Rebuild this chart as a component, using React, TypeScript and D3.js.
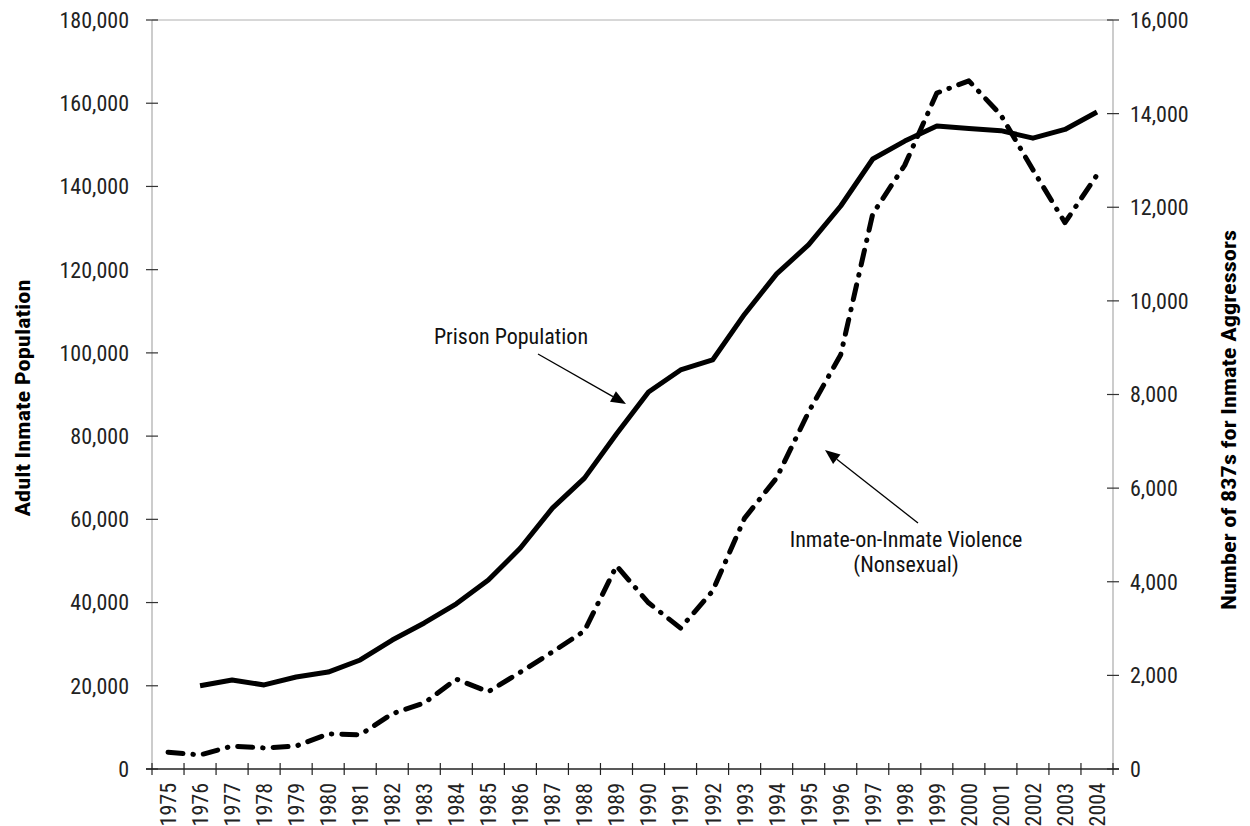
import React from "react";
import * as d3 from "d3";

const years = ["1975","1976","1977","1978","1979","1980","1981","1982","1983","1984","1985","1986","1987","1988","1989","1990","1991","1992","1993","1994","1995","1996","1997","1998","1999","2000","2001","2002","2003","2004"];
const prisonPopulation: (number | null)[] = [null,20000,21400,20200,22100,23300,26200,31000,35100,39700,45400,53100,62700,69900,80500,90600,95900,98300,109300,119000,126000,135300,146600,150900,154500,153900,153400,151600,153700,157900];
const violence: number[] = [360,300,490,450,490,750,730,1180,1410,1920,1650,2070,2500,2950,4340,3550,3010,3800,5360,6220,7630,8850,11860,12900,14440,14700,13970,12800,11670,12690];
const leftTicks = [0,20000,40000,60000,80000,100000,120000,140000,160000,180000];
const rightTicks = [0,2000,4000,6000,8000,10000,12000,14000,16000];

const W = 1250, H = 826;
const M = { left: 152, right: 1113, top: 20, bottom: 769 };
const FONT = "'Roboto Condensed', 'Liberation Sans Narrow', 'Arial Narrow', Roboto, sans-serif";

export default function App() {
  const x = d3.scaleBand<string>().domain(years).range([M.left, M.right]);
  const yL = d3.scaleLinear().domain([0, 180000]).range([M.bottom, M.top]);
  const yR = d3.scaleLinear().domain([0, 16000]).range([M.bottom, M.top]);
  const cx = (d: string) => (x(d) as number) + x.bandwidth() / 2;
  const fmt = d3.format(",");

  const popLine = d3.line<number | null>()
    .defined((d) => d !== null)
    .x((_, i) => cx(years[i]))
    .y((d) => yL(d as number));
  const vioLine = d3.line<number>()
    .x((_, i) => cx(years[i]))
    .y((d) => yR(d));

  const arrow = (x1: number, y1: number, x2: number, y2: number) => {
    const ang = Math.atan2(y2 - y1, x2 - x1);
    const L = 15, Wd = 6;
    const bx = x2 - L * Math.cos(ang), by = y2 - L * Math.sin(ang);
    const px = -Math.sin(ang) * Wd, py = Math.cos(ang) * Wd;
    return (
      <g>
        <line x1={x1} y1={y1} x2={bx} y2={by} stroke="#000" strokeWidth={1.3} />
        <polygon points={`${x2},${y2} ${bx + px},${by + py} ${bx - px},${by - py}`} fill="#000" />
      </g>
    );
  };

  return (
    <svg width={W} height={H} style={{ position: "absolute", left: 0, top: 0, background: "#fff" }} fontFamily={FONT}>
      <rect width={W} height={H} fill="#fff" />
      {/* top border */}
      <line x1={M.left} x2={M.right} y1={M.top} y2={M.top} stroke="#b0b0b0" strokeWidth={1} />
      {/* vertical axes */}
      <line x1={M.left} x2={M.left} y1={M.top} y2={M.bottom} stroke="#aaa" strokeWidth={1.2} />
      <line x1={M.right} x2={M.right} y1={M.top} y2={M.bottom} stroke="#aaa" strokeWidth={1.2} />
      {leftTicks.map((t) => (
        <g key={"l" + t}>
          <line x1={M.left - 6} x2={M.left + 6} y1={yL(t)} y2={yL(t)} stroke="#333" strokeWidth={1.2} />
          <text x={129} y={yL(t)} dy="0.36em" textAnchor="end" fontSize={22} fill="#222">{fmt(t)}</text>
        </g>
      ))}
      {rightTicks.map((t) => (
        <g key={"r" + t}>
          <line x1={M.right - 6} x2={M.right + 6} y1={yR(t)} y2={yR(t)} stroke="#333" strokeWidth={1.2} />
          <text x={1130} y={yR(t)} dy="0.36em" textAnchor="start" fontSize={22} fill="#222">{fmt(t)}</text>
        </g>
      ))}
      {/* x axis */}
      <line x1={M.left - 6} x2={M.right + 6} y1={M.bottom} y2={M.bottom} stroke="#222" strokeWidth={1.3} />
      {d3.range(years.length + 1).map((i) => {
        const xx = M.left + i * x.step();
        return <line key={"xt" + i} x1={xx} x2={xx} y1={M.bottom - 6} y2={M.bottom + 6} stroke="#222" strokeWidth={1.2} />;
      })}
      {years.map((yr) => (
        <text key={yr} transform={`translate(${cx(yr)},${783}) rotate(-90)`} dy="0.36em" textAnchor="end" fontSize={22} fill="#222">{yr}</text>
      ))}
      {/* axis titles */}
      <text transform={`translate(23,398) rotate(-90)`} textAnchor="middle" dy="0.36em" fontSize={20} fontWeight="bold" fill="#000" textLength={237} lengthAdjust="spacingAndGlyphs">Adult Inmate Population</text>
      <text transform={`translate(1229,420) rotate(-90)`} textAnchor="middle" dy="0.36em" fontSize={20} fontWeight="bold" fill="#000" textLength={380} lengthAdjust="spacingAndGlyphs">Number of 837s for Inmate Aggressors</text>
      {/* lines */}
      <path d={popLine(prisonPopulation) || ""} fill="none" stroke="#000" strokeWidth={5} strokeLinejoin="round" />
      <path d={vioLine(violence) || ""} fill="none" stroke="#000" strokeWidth={5} strokeLinejoin="round" strokeLinecap="round" strokeDasharray="15 10 0.5 10" />
      {/* annotations */}
      <text x={511} y={344} textAnchor="middle" fontSize={22} fill="#111">Prison Population</text>
      {arrow(538, 354, 626, 404)}
      <text x={906} y={547} textAnchor="middle" fontSize={22} fill="#111">Inmate-on-Inmate Violence</text>
      <text x={906} y={572} textAnchor="middle" fontSize={22} fill="#111">(Nonsexual)</text>
      {arrow(918, 523, 825, 450)}
    </svg>
  );
}
